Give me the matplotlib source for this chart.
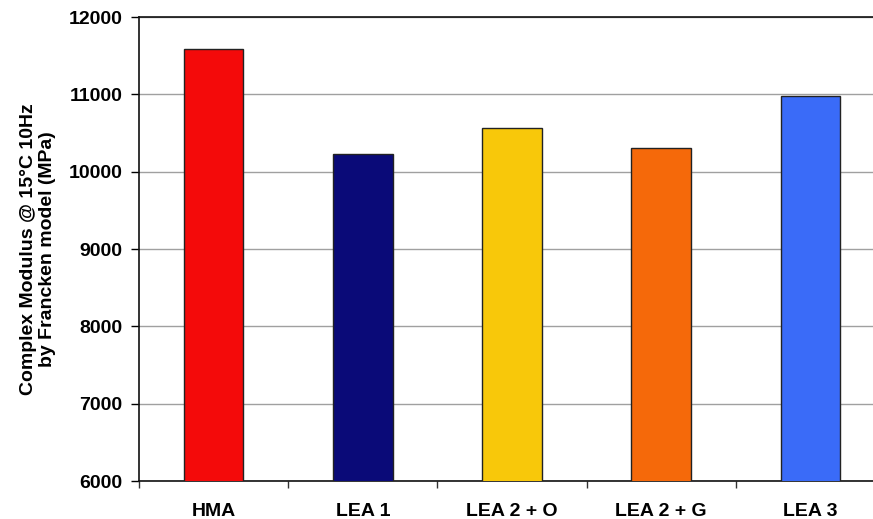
import numpy as np
import matplotlib.pyplot as plt
from matplotlib.ticker import FixedLocator

plt.rcParams['font.family'] = ['Liberation Sans', 'DejaVu Sans']
plt.rcParams['font.weight'] = 'bold'

categories = ['HMA', 'LEA 1', 'LEA 2 + O', 'LEA 2 + G', 'LEA 3']
modulus = [11580, 10230, 10560, 10300, 10975]
colors = ['#F40A0A', '#0A0A78', '#F8C80A', '#F5690A', '#3A6BF8']

fig = plt.figure(figsize=(8.73, 5.19), dpi=100)
ax = fig.add_axes([139/873, 38/519, 746/873, 464/519])

x = np.arange(len(categories))
ax.bar(x, modulus, width=0.40, color=colors, edgecolor='#222222', linewidth=1.0, zorder=3)

ax.set_xlim(-0.5, len(categories) - 0.5)
ax.set_ylim(6000, 12000)
ax.set_yticks(np.arange(6000, 12001, 1000))
ax.yaxis.grid(True, color='#A0A0A0', linewidth=1.0, zorder=0)

ax.set_xticks(x)
ax.set_xticklabels(categories, fontsize=14, fontweight='bold')
ax.xaxis.set_minor_locator(FixedLocator(np.arange(-0.5, len(categories), 1.0)))
ax.tick_params(axis='x', which='major', length=0, pad=16)
ax.tick_params(axis='x', which='minor', length=5, width=1, color='#333333', direction='out')
ax.tick_params(axis='y', length=6, width=1, direction='out', pad=6, labelsize=14)
for lab in ax.get_yticklabels():
    lab.set_fontweight('bold')

ax.set_ylabel('Complex Modulus @ 15°C 10Hz\nby Francken model (MPa)',
              fontsize=14, fontweight='bold', labelpad=9, linespacing=1.15)

for s in ['left', 'bottom', 'top']:
    ax.spines[s].set_color('#111111')
    ax.spines[s].set_linewidth(1.2)
ax.spines['right'].set_visible(False)

fig.savefig('out.png', dpi=100)
